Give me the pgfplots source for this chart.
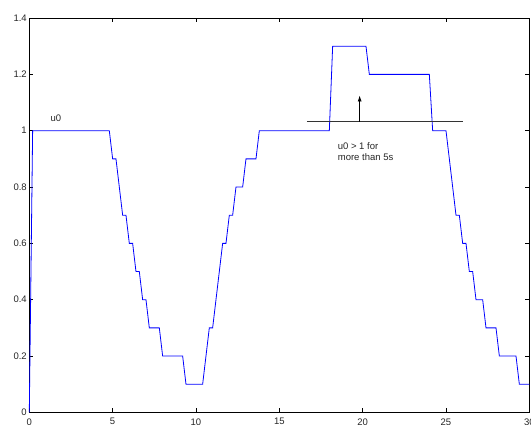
\documentclass[border=0pt]{standalone}
\usepackage{fontspec}
\setmainfont{Liberation Sans}
\usepackage{pgfplots}
\pgfplotsset{compat=1.18}
\usetikzlibrary{arrows.meta}
\begin{document}
\begin{tikzpicture}
\begin{axis}[
  scale only axis,
  width=500pt, height=394.3pt,
  xmin=0, xmax=30, ymin=0, ymax=1.4,
  xtick={0,5,...,30},
  ytick={0,0.2,0.4,0.6,0.8,1,1.2,1.4},
  yticklabels={0,0.2,0.4,0.6,0.8,1,1.2,1.4},
  xticklabels={0,5,10,15,20,25,30},
  tick align=inside,
  major tick length=4pt,
  tick style={black, line width=0.6pt},
  axis line style={black, line width=0.8pt},
  ticklabel style={font=\fontsize{9.5}{11}\selectfont, text=black!85},
  /pgf/number format/assume math mode=true,
  yticklabel style={xshift=1pt},
  xticklabel style={yshift=-2.5pt},
  clip=false,
]
\addplot[blue, line width=0.8pt] coordinates {
(0,0) (0.2,1) (4.8,1) (5.0,0.9) (5.2,0.9) (5.6,0.7) (5.8,0.7) (6.0,0.6) (6.2,0.6)
(6.4,0.5) (6.6,0.5) (6.8,0.4) (7.0,0.4) (7.2,0.3) (7.8,0.3) (8.0,0.2) (9.2,0.2)
(9.4,0.1) (10.4,0.1) (10.8,0.3) (11.0,0.3) (11.6,0.6) (11.8,0.6) (12.0,0.7) (12.2,0.7)
(12.4,0.8) (12.8,0.8) (13.0,0.9) (13.6,0.9) (13.8,1.0) (18.0,1.0) (18.2,1.3) (20.2,1.3)
(20.4,1.2) (24.0,1.2) (24.2,1.0) (25.0,1.0) (25.6,0.7) (25.8,0.7) (26.0,0.6) (26.2,0.6)
(26.4,0.5) (26.6,0.5) (26.8,0.4) (27.2,0.4) (27.4,0.3) (28.0,0.3) (28.2,0.2) (29.2,0.2)
(29.4,0.1) (30,0.1)
};
\addplot[black!80, line width=0.7pt] coordinates {(16.66,1.032) (26.02,1.032)};
\draw[black, line width=0.7pt, -{Latex[length=6pt,width=4pt]}] (axis cs:19.82,1.032) -- (axis cs:19.82,1.125);
\node[anchor=west, font=\fontsize{9.5}{11}\selectfont, text=black!85, align=left, inner sep=0pt] at (axis cs:18.5,0.926) {u0 > 1 for\\more than 5s};
\node[anchor=west, font=\fontsize{9.5}{11}\selectfont, text=black!85, inner sep=0pt] at (axis cs:1.26,1.045) {u0};
\coordinate (bbl) at (axis cs:-1.758,-0.0415);
\coordinate (btr) at (axis cs:30.10,1.464);
\end{axis}
\pgfresetboundingbox
\path[use as bounding box] (bbl) rectangle (btr);
\end{tikzpicture}
\end{document}
